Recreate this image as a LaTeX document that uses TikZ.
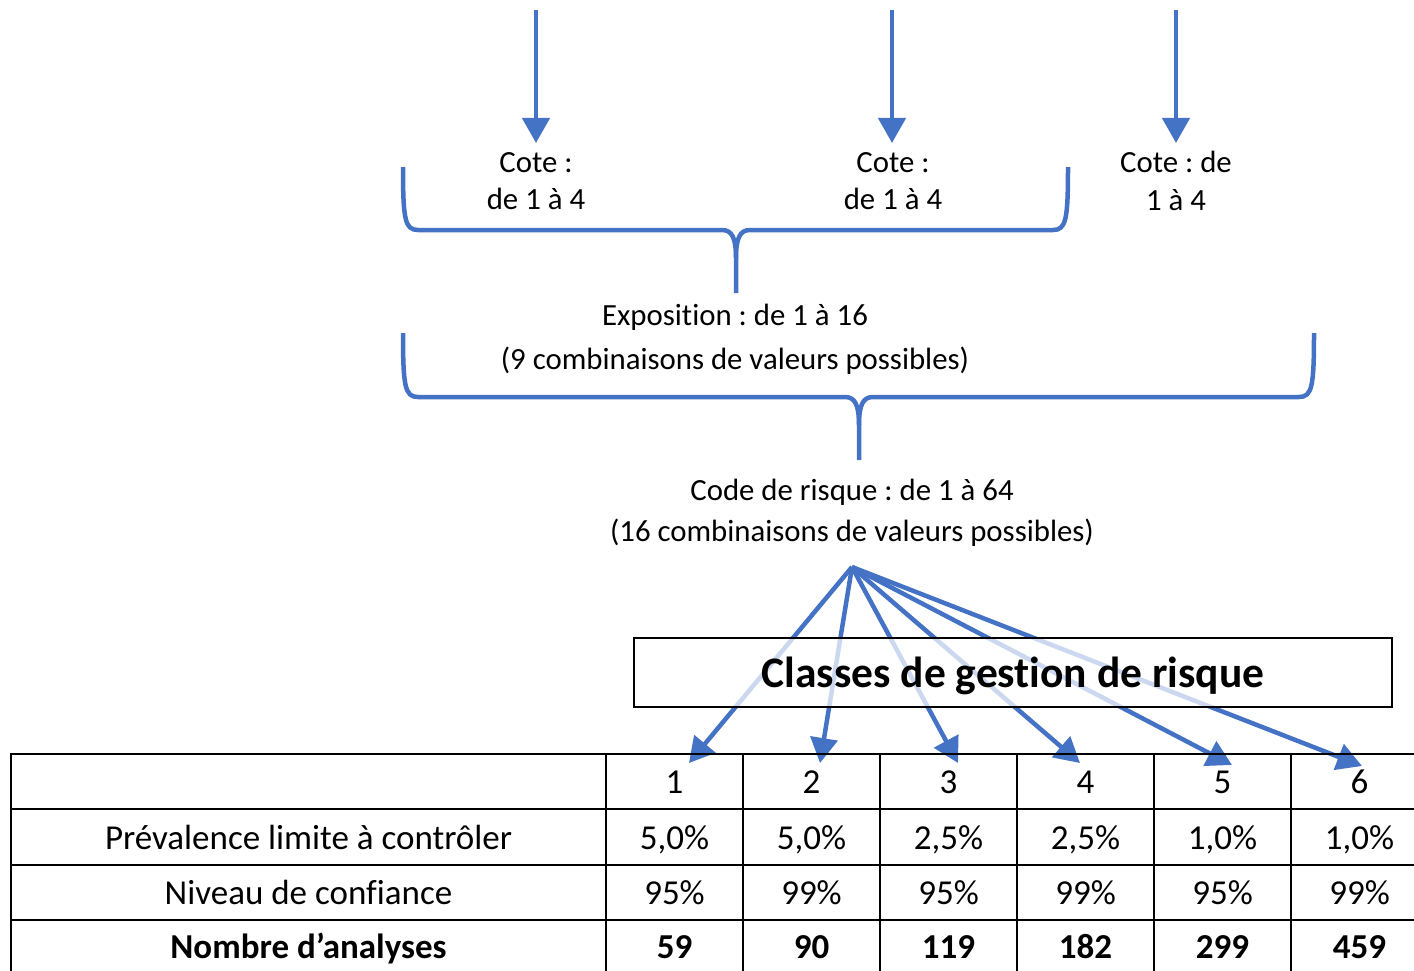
\documentclass[tikz,border=0pt]{standalone}
\usepackage{fontspec}
\setmainfont{Carlito}[Ligatures=NoCommon]
\usetikzlibrary{arrows.meta}
\definecolor{wblue}{HTML}{4472C4}
\frenchspacing
\begin{document}
\begin{tikzpicture}[x=1pt,y=-1pt,
  lbl/.style={inner sep=0pt,anchor=base,font=\fontsize{30.8}{36}\selectfont},
  cell/.style={inner sep=0pt,anchor=base,font=\fontsize{35}{40}\selectfont},
  bcell/.style={inner sep=0pt,anchor=base,font=\fontsize{35}{40}\selectfont\bfseries},
  blueline/.style={draw=wblue,line width=4.5pt},
  barrow/.style={blueline,-{Triangle[length=25pt,width=27pt]}},
  brace/.style={blueline,line join=round},
  grid/.style={draw=black,line width=2pt}
]
\useasboundingbox (0,0) rectangle (1414,971);
\clip (0,0) rectangle (1414,971);

% top arrows
\coordinate (s1) at (536,10);
\coordinate (s2) at (892,10);
\coordinate (s3) at (1176,10);
\coordinate (e1) at (536,143);
\coordinate (e2) at (892,143);
\coordinate (e3) at (1176,143);
\draw[barrow] (s1) -- (e1);
\draw[barrow] (s2) -- (e2);
\draw[barrow] (s3) -- (e3);

% cote labels
\node[lbl] (c1a) at (536,172) {Cote :};
\node[lbl] (c1b) at (536,209) {de 1 à 4};
\node[lbl] (c2a) at (893,172) {Cote :};
\node[lbl] (c2b) at (893,209) {de 1 à 4};
\node[lbl] (c3a) at (1176,173) {Cote : de};
\node[lbl] (c3b) at (1176,211) {1 à 4};

% brace 1
\draw[brace] (403,167) .. controls (403,220) and (405,230) .. (418,230) -- (722,230) .. controls (732,230) and (736,238) .. (736,258) -- (736,293);
\draw[brace] (1068,167) .. controls (1068,220) and (1066,230) .. (1053,230) -- (750,230) .. controls (740,230) and (736,238) .. (736,258);

\node[lbl] (expa) at (735,325) {Exposition : de 1 à 16};
\node[lbl] (expb) at (735,369) {(9 combinaisons de valeurs possibles)};

% brace 2
\draw[brace] (403,333) .. controls (403,387) and (405,397) .. (418,397) -- (845,397) .. controls (855,397) and (859,405) .. (859,425) -- (859,460);
\draw[brace] (1314,333) .. controls (1314,387) and (1312,397) .. (1299,397) -- (873,397) .. controls (863,397) and (859,405) .. (859,425);

\node[lbl] (coda) at (852,500) {Code de risque : de 1 à 64};
\node[lbl] (codb) at (852,541) {(16 combinaisons de valeurs possibles)};

% fan arrows
\coordinate (src) at (852,567);
\coordinate (t1) at (689,763);
\coordinate (t2) at (820,763);
\coordinate (t3) at (958,763);
\coordinate (t4) at (1080,763);
\coordinate (t5) at (1232,765);
\coordinate (t6) at (1362,766);
\foreach \t in {t1,t2,t3,t4,t5,t6}
  \draw[barrow] (src) -- (\t);

% classes box
\node[draw=black,line width=1.5pt,fill=white,fill opacity=0.73,draw opacity=1,
      minimum width=758pt,minimum height=69pt,inner sep=0pt] (box) at (1013,672.5) {};
\node[inner sep=0pt,anchor=base,font=\fontsize{43.5}{50}\selectfont\bfseries] (boxt) at (1013,687) {Classes de gestion de risque};

% table grid
\foreach \y in {754,809,865,920}
  \draw[grid] (11,\y) -- (1420,\y);
\foreach \x in {11,606,743,880,1017,1154,1291}
  \draw[grid] (\x,753) -- (\x,980);

% table text
\node[cell] (r2l) at (308.5,849) {Prévalence limite à contrôler};
\node[cell] (r3l) at (308.5,904) {Niveau de confiance};
\node[bcell] (r4l) at (308.5,958) {Nombre d’analyses};

\node[cell] (h1) at (674.5,793) {1};
\node[cell] (h2) at (811.5,793) {2};
\node[cell] (h3) at (948.5,793) {3};
\node[cell] (h4) at (1085.5,793) {4};
\node[cell] (h5) at (1222.5,793) {5};
\node[cell] (h6) at (1359.5,793) {6};

\node[cell] (p1) at (674.5,849) {5,0\%};
\node[cell] (p2) at (811.5,849) {5,0\%};
\node[cell] (p3) at (948.5,849) {2,5\%};
\node[cell] (p4) at (1085.5,849) {2,5\%};
\node[cell] (p5) at (1222.5,849) {1,0\%};
\node[cell] (p6) at (1359.5,849) {1,0\%};

\node[cell] (n1) at (674.5,904) {95\%};
\node[cell] (n2) at (811.5,904) {99\%};
\node[cell] (n3) at (948.5,904) {95\%};
\node[cell] (n4) at (1085.5,904) {99\%};
\node[cell] (n5) at (1222.5,904) {95\%};
\node[cell] (n6) at (1359.5,904) {99\%};

\node[bcell] (a1) at (674.5,958) {59};
\node[bcell] (a2) at (811.5,958) {90};
\node[bcell] (a3) at (948.5,958) {119};
\node[bcell] (a4) at (1085.5,958) {182};
\node[bcell] (a5) at (1222.5,958) {299};
\node[bcell] (a6) at (1359.5,958) {459};
\end{tikzpicture}
\end{document}
